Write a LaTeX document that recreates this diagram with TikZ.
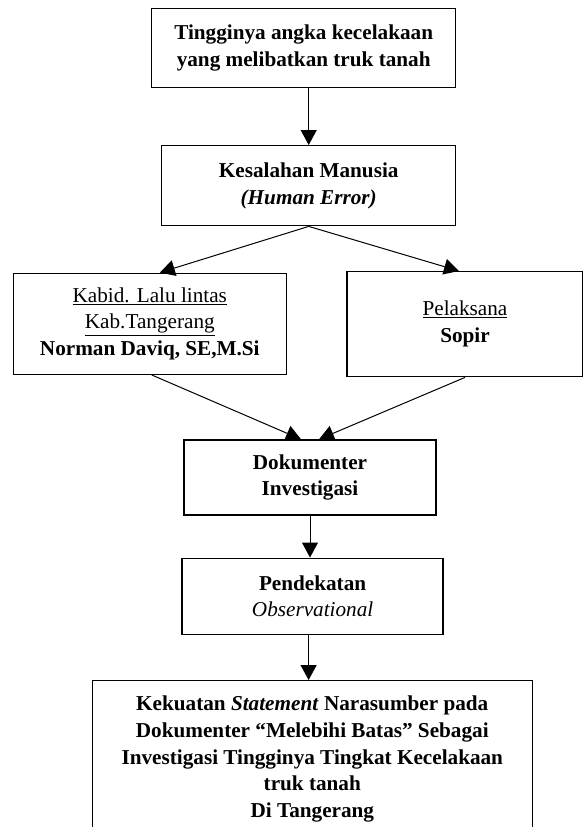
\documentclass[tikz,border=0pt]{standalone}
\usepackage{fontspec}
\setmainfont{Liberation Serif}
\usetikzlibrary{arrows.meta}

\tikzset{
  kotak/.style={draw, line width=1.4pt, align=center, inner sep=0pt,
    font=\fontsize{21.2}{26.7}\selectfont},
  panah/.style={-{Triangle[length=15pt,width=16pt]}, line width=1pt}
}

\begin{document}
\begin{tikzpicture}[x=1pt, y=-1pt]
    \useasboundingbox (0,0) rectangle (583,827);
    \clip (0,0) rectangle (583,827);
    % kotak-kotak alur
    \node[kotak, minimum width=304pt, minimum height=79pt] (masalah) at (303.7,47.8)
      {\textbf{Tingginya angka kecelakaan}\\ \textbf{yang melibatkan truk tanah}};
    \node[kotak, minimum width=294pt, minimum height=80pt] (human) at (308.7,185.7)
      {\textbf{Kesalahan Manusia}\\ \textbf{\textit{(Human Error)}}};
    \node[kotak, minimum width=273pt, minimum height=101pt] (kabid) at (149.8,323.8)
      {\underline{Kabid. Lalu lintas}\\ \underline{Kab.Tangerang}\\ \textbf{Norman Daviq, SE,M.Si}};
    \node[kotak, minimum width=236pt, minimum height=105pt] (sopir) at (465,324.2)
      {\underline{Pelaksana}\\ \textbf{Sopir}};
    \node[kotak, minimum width=252pt, minimum height=75pt] (dokumenter) at (310,477.5)
      {\textbf{Dokumenter}\\ \textbf{Investigasi}};
    \node[kotak, minimum width=261pt, minimum height=76pt] (pendekatan) at (312.6,596.2)
      {\textbf{Pendekatan}\\ \textit{Observational}};
    \node[kotak, minimum width=440pt, minimum height=157pt] (hasil) at (312.3,759.2)
      {\textbf{Kekuatan \textit{Statement} Narasumber pada}\\
       \textbf{Dokumenter “Melebihi Batas” Sebagai}\\
       \textbf{Investigasi Tingginya Tingkat Kecelakaan}\\
       \textbf{truk tanah}\\
       \textbf{Di Tangerang}};
    % panah
    \draw[panah] (human.north |- masalah.south) -- (human.north);
    \draw[panah] (human.south) -- ([xshift=10pt]kabid.north);
    \draw[panah] (human.south) -- ([xshift=-6pt]sopir.north);
    \draw[panah] ([xshift=2pt]kabid.south) -- ([xshift=-9pt]dokumenter.north);
    \draw[panah] (sopir.south) -- ([xshift=9pt]dokumenter.north);
    \draw[panah] (dokumenter.south) -- (dokumenter.south |- pendekatan.north);
    \draw[panah] ([xshift=-4pt]pendekatan.south) -- ([xshift=-4pt]pendekatan.south |- hasil.north);
\end{tikzpicture}
\end{document}
